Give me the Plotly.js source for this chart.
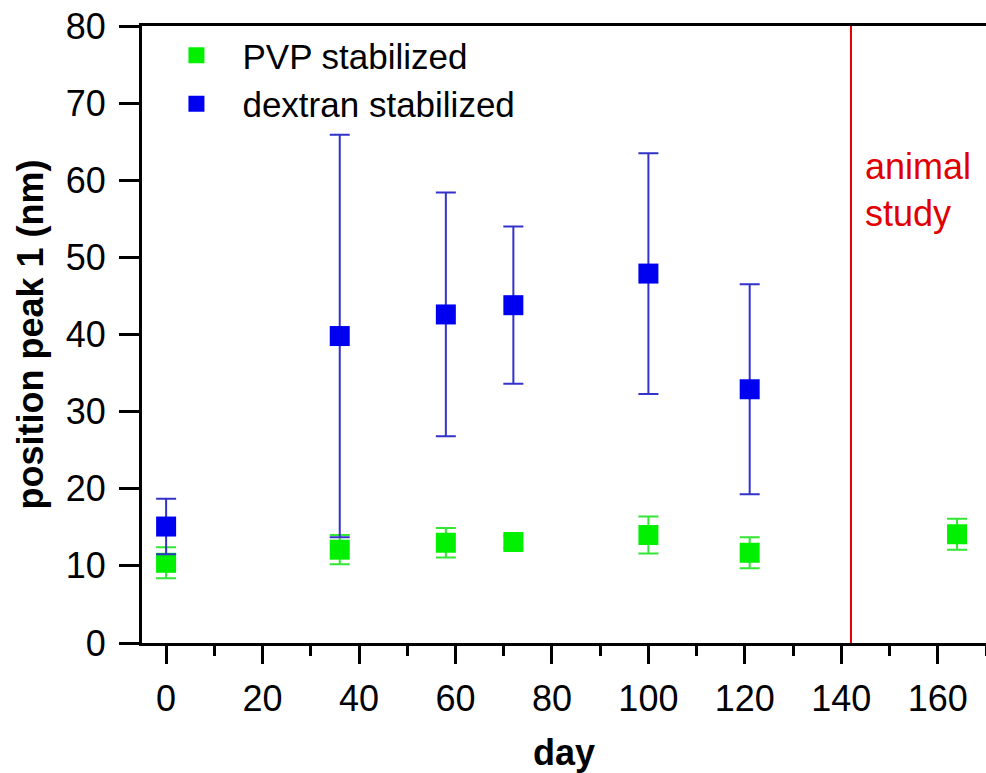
<!DOCTYPE html>
<html>
<head>
<meta charset="utf-8">
<script src="https://cdn.plot.ly/plotly-3.0.1.min.js"></script>
<style>html,body{margin:0;padding:0;background:#fff;}#chart{width:986px;height:773px;}</style>
</head>
<body>
<div id="chart"></div>
<script>
// Data
const pvpDays = [0, 36, 58, 72, 100, 121, 164];
const pvpPeak = [10.4, 12.1, 13.0, 13.1, 14.0, 11.7, 14.1];
const pvpErr  = [2.0, 1.9, 1.9, 0.8, 2.4, 2.0, 2.0];

const dexDays = [0, 36, 58, 72, 100, 121];
const dexPeak = [15.1, 39.8, 42.6, 43.8, 47.9, 32.9];
const dexErr  = [3.6, 26.1, 15.8, 10.2, 15.6, 13.6];

const animalStudyDay = 142;
const seriesNames = ['PVP stabilized', 'dextran stabilized'];
const eventLabel = 'animal<br>study';

const FONT = 'Liberation Sans, Arial, Helvetica, sans-serif';

const traces = [
  {
    x: pvpDays, y: pvpPeak, name: seriesNames[0],
    type: 'scatter', mode: 'markers',
    marker: {symbol: 'square', size: 20, color: '#00f000', line: {width: 0}},
    error_y: {type: 'data', array: pvpErr, visible: true, color: '#33e633', thickness: 2, width: 10}
  },
  {
    x: dexDays, y: dexPeak, name: seriesNames[1],
    type: 'scatter', mode: 'markers',
    marker: {symbol: 'square', size: 20, color: '#0000f0', line: {width: 0}},
    error_y: {type: 'data', array: dexErr, visible: true, color: '#3333cc', thickness: 2, width: 10}
  }
];

const layout = {
  width: 986, height: 773,
  margin: {l: 142, r: 0, t: 26, b: 130},
  paper_bgcolor: '#ffffff', plot_bgcolor: '#ffffff',
  font: {family: FONT, size: 36, color: '#000'},
  showlegend: true,
  legend: {
    x: 0.01, y: 1.0, xanchor: 'left', yanchor: 'top',
    bgcolor: 'rgba(0,0,0,0)', borderwidth: 0,
    font: {family: FONT, size: 35, color: '#000'},
    itemwidth: 82, tracegroupgap: 0
  },
  xaxis: {
    range: [-5, 170], tick0: 0, dtick: 20,
    ticks: 'outside', ticklen: 18, tickwidth: 3, tickcolor: '#000',
    minor: {dtick: 10, ticks: 'outside', ticklen: 10, tickwidth: 3, tickcolor: '#000'},
    showline: true, linewidth: 3, linecolor: '#000', mirror: true,
    showgrid: false, zeroline: false,
    ticklabelstandoff: 4,
    tickfont: {family: FONT, size: 36, color: '#000'},
    title: {text: 'day', font: {family: FONT, size: 36, color: '#000', weight: 'bold'}, standoff: 28},
    automargin: false
  },
  yaxis: {
    range: [0, 80], tick0: 0, dtick: 10,
    ticks: 'outside', ticklen: 20, tickwidth: 3, tickcolor: '#000',
    showline: true, linewidth: 3, linecolor: '#000', mirror: true,
    showgrid: false, zeroline: false,
    ticklabelstandoff: 6,
    tickfont: {family: FONT, size: 36, color: '#000'},
    title: {text: 'position peak 1 (nm)', font: {family: FONT, size: 36, color: '#000', weight: 'bold'}, standoff: 12},
    automargin: false
  },
  shapes: [{
    type: 'line', xref: 'x', yref: 'paper',
    x0: animalStudyDay, x1: animalStudyDay, y0: 0, y1: 1,
    line: {color: '#e00000', width: 2}
  }],
  annotations: [{
    xref: 'x', yref: 'y', x: animalStudyDay, y: 58.8,
    xanchor: 'left', yanchor: 'middle', xshift: 12, align: 'left',
    text: eventLabel, showarrow: false,
    font: {family: FONT, size: 36, color: '#e00000'}
  }]
};

Plotly.newPlot('chart', traces, layout, {displayModeBar: false, staticPlot: true});
</script>
</body>
</html>
